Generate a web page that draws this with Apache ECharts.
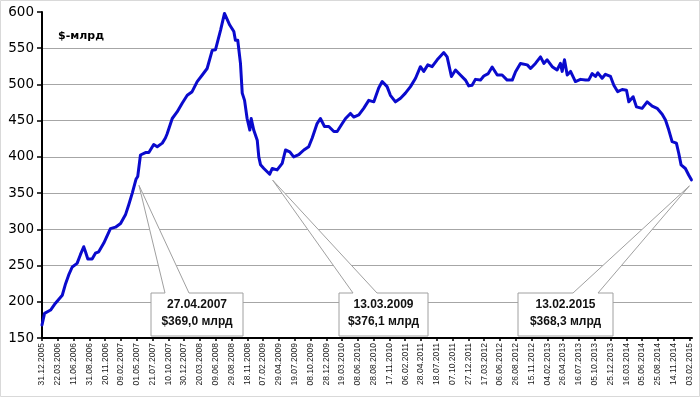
<!DOCTYPE html>
<html>
<head>
<meta charset="utf-8">
<script src="https://cdn.jsdelivr.net/npm/echarts@6/dist/echarts.min.js"></script>
<style>
html,body{margin:0;padding:0;background:#fff;}
#c{width:700px;height:397px;}
</style>
</head>
<body>
<div id="c"></div>
<script>
const dates = [
'2005-12-31','2006-01-13','2006-02-13','2006-03-10','2006-04-14','2006-05-01','2006-05-17','2006-06-04','2006-06-29','2006-07-16',
'2006-08-02','2006-08-11','2006-08-23','2006-09-14','2006-10-01','2006-10-18','2006-11-13','2006-12-17','2007-01-12','2007-02-07',
'2007-03-04','2007-03-21','2007-04-08','2007-04-27','2007-05-06','2007-05-20','2007-06-15','2007-07-02','2007-07-27','2007-08-14',
'2007-09-09','2007-09-25','2007-10-04','2007-10-30','2007-11-24','2007-12-20','2008-01-15','2008-02-09','2008-03-06','2008-04-01',
'2008-04-26','2008-05-22','2008-06-08','2008-07-04','2008-07-24','2008-08-03','2008-08-20','2008-09-10','2008-09-18','2008-09-30',
'2008-10-14','2008-10-23','2008-11-04','2008-11-17','2008-12-01','2008-12-08','2008-12-21','2009-01-08','2009-01-16','2009-01-25',
'2009-02-11','2009-03-13','2009-03-26','2009-04-20','2009-05-16','2009-06-02','2009-06-24','2009-07-14','2009-08-09','2009-09-04',
'2009-09-29','2009-10-17','2009-11-11','2009-11-28','2009-12-19','2010-01-10','2010-02-05','2010-02-22','2010-03-20','2010-04-06',
'2010-05-01','2010-05-18','2010-06-13','2010-07-08','2010-08-03','2010-08-29','2010-09-23','2010-10-11','2010-11-05','2010-11-22',
'2010-12-18','2011-01-13','2011-02-07','2011-03-05','2011-03-31','2011-04-25','2011-05-12','2011-06-02','2011-06-24','2011-07-20',
'2011-08-23','2011-09-09','2011-10-01','2011-10-22','2011-11-16','2011-12-12','2011-12-29','2012-01-15','2012-02-01','2012-02-27',
'2012-03-15','2012-04-07','2012-04-27','2012-05-23','2012-06-17','2012-07-13','2012-08-08','2012-08-25','2012-09-19','2012-10-24',
'2012-11-10','2012-12-05','2012-12-31','2013-01-17','2013-02-03','2013-03-01','2013-03-26','2013-04-12','2013-04-21','2013-05-03',
'2013-05-17','2013-06-03','2013-06-28','2013-07-24','2013-08-19','2013-09-04','2013-09-22','2013-10-09','2013-10-21','2013-11-12',
'2013-11-29','2013-12-25','2014-01-11','2014-01-31','2014-02-23','2014-03-17','2014-03-29','2014-04-20','2014-05-07','2014-06-05',
'2014-07-01','2014-07-27','2014-08-21','2014-09-16','2014-10-03','2014-10-20','2014-11-06','2014-11-28','2014-12-10','2014-12-22',
'2015-01-13','2015-01-30','2015-02-13'
];
const values = [
168,184,188.6,198,209,225,237,248,253,265,
276,269,259,259,267,269,281,301,303,308,
320,334,350,369.0,373,402.6,406,406,417,414,
419,426,432,453,462,474,485,490,504,513,
522,547,548,575,598,596,582,573,561,561,
529,488,478,453,437,453,437,423,400,389,
384,376.1,384,382,391,409.5,407,400,403,409.5,
414,426,446,453,442,442,435,435,446,453,
460,455,458,467,478,476,495,504,497,485,
476,481,488,497,508.5,524.5,518,527,524.5,534,
544,538,511,520,513,506,498,499,507,506,
511.6,515,524,513,513,506,506,517.6,529,527,
522,529,538,529,534,524.5,520,529,518,534,
513,518,504,507,506,506,515,511,516,508.5,
514,511,499,490,493,492,476,483,469,467,
476,470,467,459,451,437,421,419,405,389,
384,375,368.3
];
const tickLabels = [
'31.12.2005','22.03.2006','11.06.2006','31.08.2006','20.11.2006','09.02.2007','01.05.2007','21.07.2007','10.10.2007','30.12.2007',
'20.03.2008','09.06.2008','29.08.2008','18.11.2008','07.02.2009','29.04.2009','19.07.2009','08.10.2009','28.12.2009','19.03.2010',
'08.06.2010','28.08.2010','17.11.2010','06.02.2011','28.04.2011','18.07.2011','07.10.2011','27.12.2011','17.03.2012','06.06.2012',
'26.08.2012','15.11.2012','04.02.2013','26.04.2013','16.07.2013','05.10.2013','25.12.2013','16.03.2014','05.06.2014','25.08.2014',
'14.11.2014','03.02.2015'
];
const axisEndDate = '2015-02-16';
const yTitle = '$-млрд';
const calloutDates = ['2007-04-27','2009-03-13','2015-02-13'];

const BASE = Date.UTC(2005, 11, 31);
function dayIndex(iso) { return Math.round((Date.parse(iso + 'T00:00:00Z') - BASE) / 86400000); }
function ruToIso(s) { const p = s.split('.'); return p[2] + '-' + p[1] + '-' + p[0]; }
function isoToRu(s) { const p = s.split('-'); return p[2] + '.' + p[1] + '.' + p[0]; }

const tickVals = tickLabels.map(l => dayIndex(ruToIso(l)));
const labelByDay = {};
tickLabels.forEach((l, i) => { labelByDay[tickVals[i]] = l; });

const chart = echarts.init(document.getElementById('c'), null, { renderer: 'canvas' });
chart.setOption({
  animation: false,
  backgroundColor: '#fff',
  grid: { left: 42, right: 8, top: 12, bottom: 59, containLabel: false, outerBoundsMode: 'none' },
  title: {
    text: yTitle, left: 53, top: 26,
    textStyle: { fontFamily: 'DejaVu Sans', fontWeight: 'bold', fontSize: 11, color: '#000' }
  },
  xAxis: {
    type: 'value', min: 0, max: dayIndex(axisEndDate),
    axisLine: { onZero: false, lineStyle: { color: '#000', width: 2 } },
    axisTick: { show: true, customValues: tickVals, length: 3, lineStyle: { color: '#000', width: 1.5 } },
    axisLabel: {
      customValues: tickVals, rotate: 90, margin: 5,
      formatter: v => labelByDay[Math.round(v)] || '',
      fontSize: 8.5, fontFamily: 'Liberation Sans', color: '#1a1a1a'
    },
    splitLine: { show: false }
  },
  yAxis: {
    type: 'value', min: 150, max: 600, interval: 50,
    axisLine: { show: true, lineStyle: { color: '#000', width: 2 } },
    axisTick: { show: true, length: 5, lineStyle: { color: '#000', width: 1.5 } },
    axisLabel: { fontSize: 13.5, fontFamily: 'DejaVu Sans', color: '#000', margin: 8 },
    splitLine: { show: true, showMaxLine: false, showMinLine: false, lineStyle: { color: '#a6a6a6', width: 1 } }
  },
  series: [{
    type: 'line',
    data: dates.map((d, i) => [dayIndex(d), values[i]]),
    showSymbol: false,
    lineStyle: { color: '#0a0acd', width: 3, join: 'round', cap: 'round' },
    z: 3
  }]
});

// callout layout (box geometry in pixels, anchored to the data point via the axes)
const boxes = [
  { left: 151, right: 243, w1: 14, w2: 38 },
  { left: 339, right: 428, w1: 14, w2: 38 },
  { left: 518, right: 613, w1: 55, w2: 80 }
];
const boxTop = 293, boxBottom = 336;
const graphics = [{
  type: 'rect', silent: true, z: 0,
  shape: { x: 0.5, y: 0.5, width: 699, height: 396 },
  style: { fill: null, stroke: '#d9d9d9', lineWidth: 1 }
}];
calloutDates.forEach((d, i) => {
  const idx = dates.indexOf(d);
  const v = values[idx];
  const p = chart.convertToPixel({ xAxisIndex: 0, yAxisIndex: 0 }, [dayIndex(d), v]);
  const b = boxes[i];
  const tip = [p[0] + (i === 2 ? -2 : 3), p[1] + 6];
  graphics.push({
    type: 'polygon', z: 100, silent: true,
    shape: { points: [
      [b.left, boxTop], [b.left + b.w1, boxTop], tip, [b.left + b.w2, boxTop],
      [b.right, boxTop], [b.right, boxBottom], [b.left, boxBottom]
    ] },
    style: { fill: '#fff', stroke: '#a0a0a0', lineWidth: 1 }
  });
  const cx = (b.left + b.right) / 2;
  graphics.push({
    type: 'text', z: 101, silent: true, x: cx, y: 305,
    style: { text: isoToRu(d), align: 'center', verticalAlign: 'middle',
             font: 'bold 12px "Liberation Sans"', fill: '#111' }
  });
  graphics.push({
    type: 'text', z: 101, silent: true, x: cx, y: 322,
    style: { text: '$' + v.toFixed(1).replace('.', ',') + ' млрд', align: 'center', verticalAlign: 'middle',
             font: 'bold 12px "Liberation Sans"', fill: '#111' }
  });
});
chart.setOption({ graphic: graphics });
</script>
</body>
</html>
